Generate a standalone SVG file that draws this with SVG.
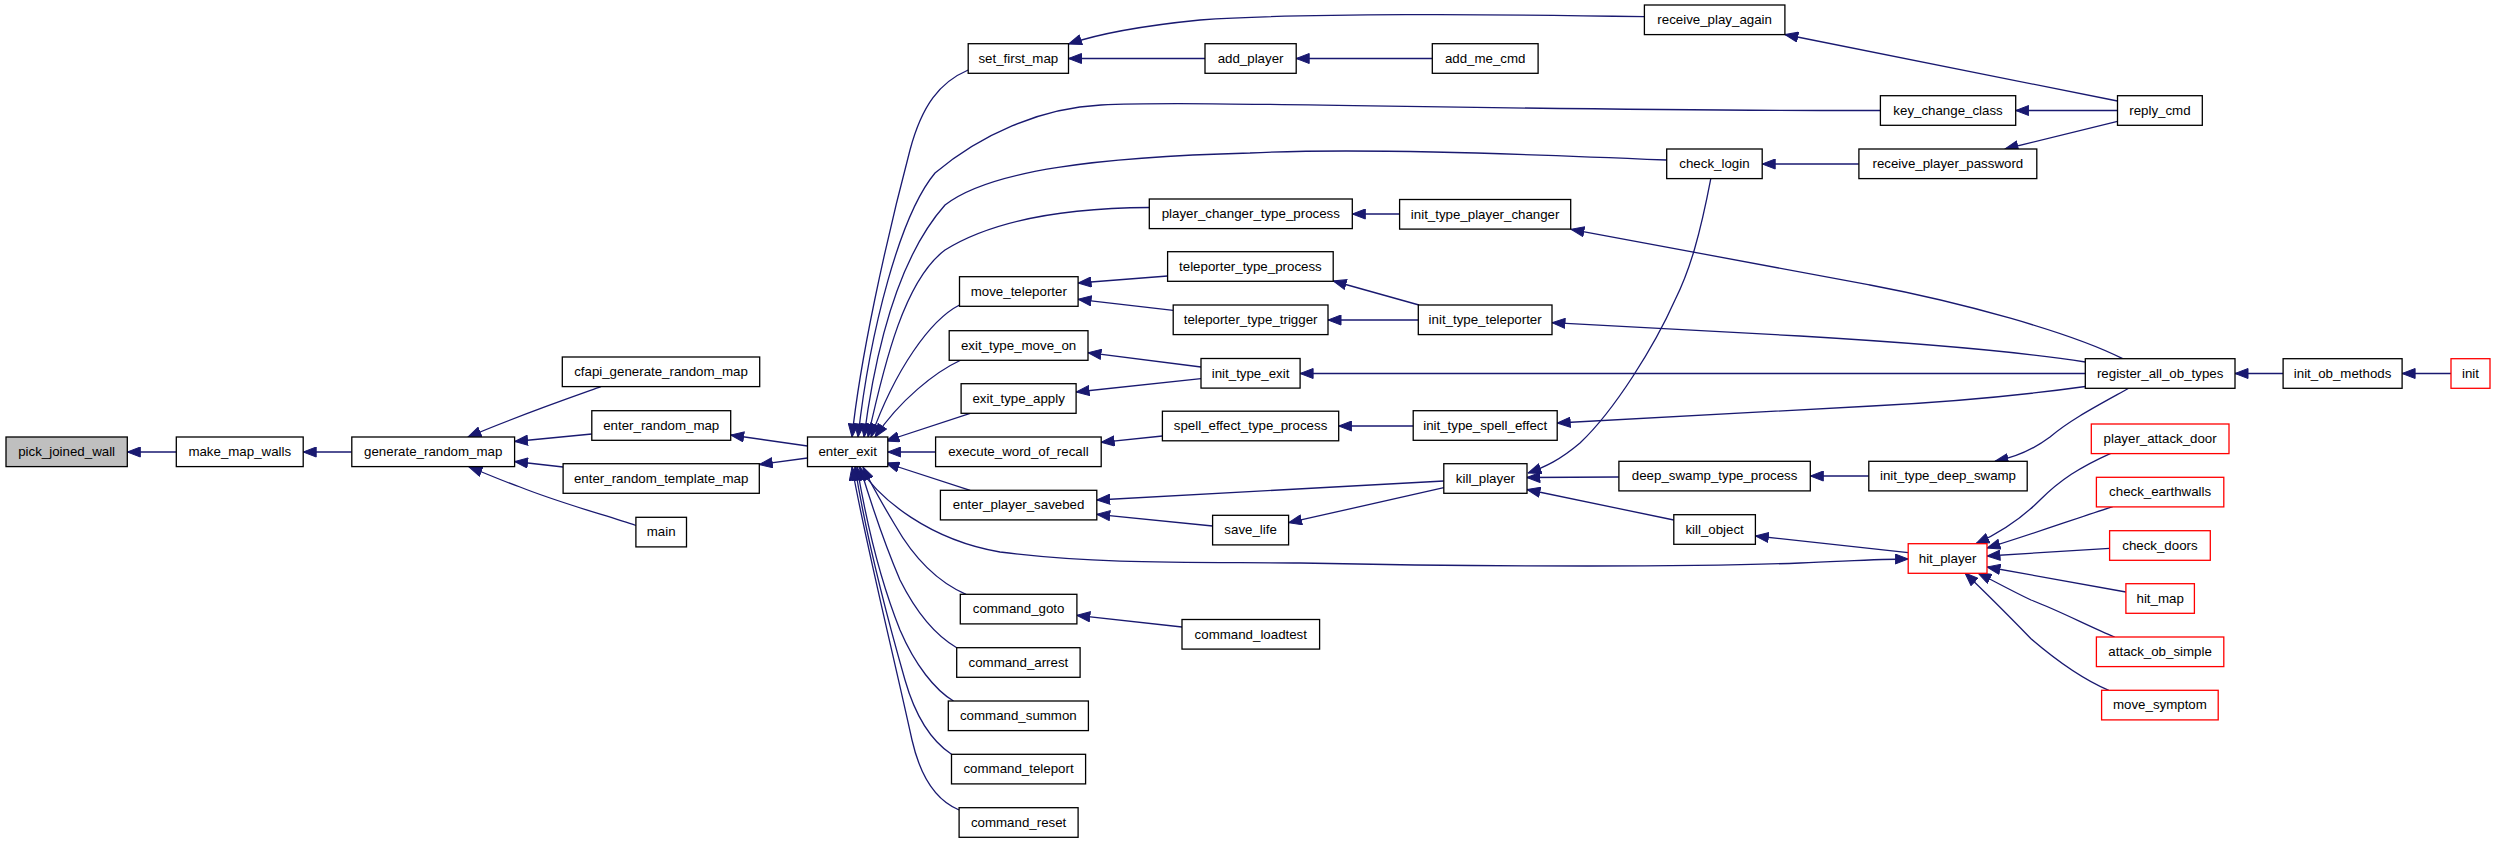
<svg xmlns="http://www.w3.org/2000/svg" width="2496" height="843" viewBox="0 0 2496 843">
<style>
.n rect{fill:#ffffff;stroke:#000000;stroke-width:1.3}
.n.hl rect{fill:#bfbfbf}
.n.red rect{stroke:#ff0000}
.n text{font-family:"Liberation Sans",Arial,sans-serif;font-size:13.3px;fill:#000000;text-anchor:middle}
#edges path{fill:none;stroke:#191970;stroke-width:1.3;marker-end:url(#ah)}
</style>
<defs>
<marker id="ah" markerUnits="userSpaceOnUse" markerWidth="14" markerHeight="11" viewBox="0 0 14 11" refX="13.5" refY="5.5" orient="auto">
<path d="M0.5,0.5 L13.5,5.5 L0.5,10.5 z" fill="#191970" stroke="#191970" stroke-width="1"/>
</marker>
</defs>
<rect x="0" y="0" width="2496" height="843" fill="#ffffff"/>
<g id="edges">
<path d="M176.3,452 L127.3,452"/>
<path d="M351.8,452 L303.2,452"/>
<path d="M601,386.7 C575,396 520,415 468,437"/>
<path d="M591.8,434 L514.6,441.5"/>
<path d="M563.1,467 L514.6,461.5"/>
<path d="M635.9,525.5 C605,515 560,503 520,487 C500,480 485,473 469,467"/>
<path d="M807.5,446 L730.7,435"/>
<path d="M807.5,458 L759.3,464.5"/>
<path d="M1205,58.5 L1068.5,58.5"/>
<path d="M1432.3,58.5 L1296.2,58.5"/>
<path d="M1644.4,16.7 C1500,14 1300,13 1200,20 C1130,27 1095,35 1068.5,44"/>
<path d="M2117.5,101 L1784.9,34.5"/>
<path d="M2117.5,110.5 L2015.7,110.5"/>
<path d="M2117.5,121.3 L2005,149"/>
<path d="M1858.9,164 L1762.2,164"/>
<path d="M1399.6,214 L1352.3,214"/>
<path d="M2122.7,358.7 C2070,332 1960,302 1870,285 C1760,265 1650,244 1571,229.3"/>
<path d="M1167.6,276 L1078.1,283"/>
<path d="M1173.2,310.3 L1078.1,299.3"/>
<path d="M1419,305 L1333.2,281"/>
<path d="M1418.3,320 L1328,320"/>
<path d="M2085.3,362 C2010,350 1900,342 1800,336 C1700,330 1620,326 1552,322.7"/>
<path d="M1201,367 L1088,352.7"/>
<path d="M1201,378.7 L1076.1,392"/>
<path d="M2085.3,373.5 L1300.1,373.5"/>
<path d="M1162.4,436 L1101.2,442.3"/>
<path d="M1413.2,426 L1338.7,426"/>
<path d="M2085.3,386.5 C2010,397 1950,402 1872,406 C1760,412 1650,418 1557.2,423"/>
<path d="M2128.7,388.3 C2095,407 2070,420 2050,437 C2030,452 2012,458 1995,461.3"/>
<path d="M2283.1,373.5 L2235,373.5"/>
<path d="M2451,373.5 L2402.1,373.5"/>
<path d="M1618.9,477 L1527,477.5"/>
<path d="M1868.8,476 L1810.3,476"/>
<path d="M1673.8,520 L1527,489.5"/>
<path d="M1710.8,178.7 C1700,235 1690,270 1675,300 C1655,345 1615,410 1580,443 C1560,460 1545,467 1528,473"/>
<path d="M1443.8,481 L1096.8,500"/>
<path d="M1212.6,526 L1096.8,514.3"/>
<path d="M1443.8,487.7 L1288.6,522.7"/>
<path d="M1908.2,552.7 L1755.4,536"/>
<path d="M858.8,467 C880,500 930,540 1000,552 C1100,565 1200,562 1300,563 C1500,567 1700,567 1800,563 C1850,561 1880,559 1908.2,559"/>
<path d="M2110.8,453.3 C2080,467 2060,480 2040,500 C2020,520 1995,535 1976,543.7"/>
<path d="M2112.8,506.7 C2080,517 2030,535 1987,548"/>
<path d="M2109.6,548.3 L1987,556"/>
<path d="M2125.9,592 L1987,567"/>
<path d="M2114.7,637 C2090,627 2060,611 2031,600 C2010,590 1992,580 1978,573"/>
<path d="M2108.8,690.3 C2080,678 2050,655 2031,638.7 C2005,612 1985,592 1965,573"/>
<path d="M1182,627 L1076.9,615.3"/>
<path d="M968.2,70 C940,82 922,105 910,150 C885,245 860,360 852,437"/>
<path d="M1880.4,110.5 C1500,111 1200,100 1101,105 C1040,108 980,135 935,173 C900,215 870,330 858,437"/>
<path d="M1666.7,160 C1500,153 1350,148 1250,153 C1100,157 990,170 945,205 C905,250 878,330 864,437"/>
<path d="M1149.3,207.5 C1060,208 990,222 945,250 C905,280 885,360 868,437"/>
<path d="M959.5,305 C930,320 895,370 871,437"/>
<path d="M961,360 C935,372 900,400 875,437"/>
<path d="M970.2,413.3 L886,441"/>
<path d="M935.6,452 L887.8,452"/>
<path d="M970.2,490.3 L886,463"/>
<path d="M966,594.3 C940,583 915,560 895,525 C880,500 870,482 863,467"/>
<path d="M956.7,647.7 C935,635 915,610 900,580 C885,545 870,500 860,467"/>
<path d="M953.5,701 C935,690 915,665 900,630 C880,580 866,520 857,467"/>
<path d="M951.5,754.3 C930,740 915,715 905,680 C885,610 865,530 855,467"/>
<path d="M959.1,810 C935,800 920,775 912,740 C890,640 865,540 852,467"/>
</g>
<g id="pick_joined_wall" class="n hl"><rect x="6" y="437" width="121.3" height="29.6"/><text x="66.65" y="456">pick_joined_wall</text></g>
<g id="make_map_walls" class="n"><rect x="176.3" y="437" width="126.9" height="29.6"/><text x="239.75" y="456">make_map_walls</text></g>
<g id="generate_random_map" class="n"><rect x="351.8" y="437" width="162.8" height="29.6"/><text x="433.2" y="456">generate_random_map</text></g>
<g id="cfapi_generate_random_map" class="n"><rect x="562.3" y="357" width="197.4" height="29.6"/><text x="661" y="376">cfapi_generate_random_map</text></g>
<g id="enter_random_map" class="n"><rect x="591.8" y="410.7" width="138.9" height="29.6"/><text x="661.25" y="429.7">enter_random_map</text></g>
<g id="enter_random_template_map" class="n"><rect x="563.1" y="463.7" width="196.2" height="29.6"/><text x="661.2" y="482.7">enter_random_template_map</text></g>
<g id="main" class="n"><rect x="635.9" y="517.3" width="50.6" height="29.6"/><text x="661.2" y="536.3">main</text></g>
<g id="enter_exit" class="n"><rect x="807.5" y="437" width="80.3" height="29.6"/><text x="847.65" y="456">enter_exit</text></g>
<g id="set_first_map" class="n"><rect x="968.2" y="43.7" width="100.3" height="29.6"/><text x="1018.35" y="62.7">set_first_map</text></g>
<g id="add_player" class="n"><rect x="1205" y="43.7" width="91.2" height="29.6"/><text x="1250.6" y="62.7">add_player</text></g>
<g id="add_me_cmd" class="n"><rect x="1432.3" y="43.7" width="105.8" height="29.6"/><text x="1485.2" y="62.7">add_me_cmd</text></g>
<g id="receive_play_again" class="n"><rect x="1644.4" y="5" width="140.5" height="29.6"/><text x="1714.65" y="24">receive_play_again</text></g>
<g id="key_change_class" class="n"><rect x="1880.4" y="95.7" width="135.3" height="29.6"/><text x="1948.05" y="114.7">key_change_class</text></g>
<g id="reply_cmd" class="n"><rect x="2117.5" y="95.7" width="84.8" height="29.6"/><text x="2159.9" y="114.7">reply_cmd</text></g>
<g id="check_login" class="n"><rect x="1666.7" y="149" width="95.5" height="29.6"/><text x="1714.45" y="168">check_login</text></g>
<g id="receive_player_password" class="n"><rect x="1858.9" y="149" width="177.9" height="29.6"/><text x="1947.85" y="168">receive_player_password</text></g>
<g id="player_changer_type_process" class="n"><rect x="1149.3" y="199" width="203" height="29.6"/><text x="1250.8" y="218">player_changer_type_process</text></g>
<g id="init_type_player_changer" class="n"><rect x="1399.6" y="199.5" width="171.1" height="29.6"/><text x="1485.15" y="218.5">init_type_player_changer</text></g>
<g id="teleporter_type_process" class="n"><rect x="1167.6" y="251.7" width="165.6" height="29.6"/><text x="1250.4" y="270.7">teleporter_type_process</text></g>
<g id="move_teleporter" class="n"><rect x="959.5" y="276.7" width="118.6" height="29.6"/><text x="1018.8" y="295.7">move_teleporter</text></g>
<g id="teleporter_type_trigger" class="n"><rect x="1173.2" y="305" width="154.8" height="29.6"/><text x="1250.6" y="324">teleporter_type_trigger</text></g>
<g id="init_type_teleporter" class="n"><rect x="1418.3" y="305" width="133.7" height="29.6"/><text x="1485.15" y="324">init_type_teleporter</text></g>
<g id="exit_type_move_on" class="n"><rect x="949.2" y="330.7" width="138.8" height="29.6"/><text x="1018.6" y="349.7">exit_type_move_on</text></g>
<g id="init_type_exit" class="n"><rect x="1201" y="358.5" width="99.1" height="29.6"/><text x="1250.55" y="377.5">init_type_exit</text></g>
<g id="exit_type_apply" class="n"><rect x="961.1" y="383.7" width="115" height="29.6"/><text x="1018.6" y="402.7">exit_type_apply</text></g>
<g id="execute_word_of_recall" class="n"><rect x="935.6" y="437" width="165.6" height="29.6"/><text x="1018.4" y="456">execute_word_of_recall</text></g>
<g id="spell_effect_type_process" class="n"><rect x="1162.4" y="411.2" width="176.3" height="29.6"/><text x="1250.55" y="430.2">spell_effect_type_process</text></g>
<g id="init_type_spell_effect" class="n"><rect x="1413.2" y="410.7" width="144" height="29.6"/><text x="1485.2" y="429.7">init_type_spell_effect</text></g>
<g id="register_all_ob_types" class="n"><rect x="2085.3" y="358.7" width="149.7" height="29.6"/><text x="2160.15" y="377.7">register_all_ob_types</text></g>
<g id="init_ob_methods" class="n"><rect x="2283.1" y="358.7" width="119" height="29.6"/><text x="2342.6" y="377.7">init_ob_methods</text></g>
<g id="init" class="n red"><rect x="2451" y="358.7" width="39" height="29.6"/><text x="2470.5" y="377.7">init</text></g>
<g id="enter_player_savebed" class="n"><rect x="940.4" y="490.3" width="156.4" height="29.6"/><text x="1018.6" y="509.3">enter_player_savebed</text></g>
<g id="save_life" class="n"><rect x="1212.6" y="515.3" width="76" height="29.6"/><text x="1250.6" y="534.3">save_life</text></g>
<g id="kill_player" class="n"><rect x="1443.8" y="463.7" width="83.2" height="29.6"/><text x="1485.4" y="482.7">kill_player</text></g>
<g id="deep_swamp_type_process" class="n"><rect x="1618.9" y="461.3" width="191.4" height="29.6"/><text x="1714.6" y="480.3">deep_swamp_type_process</text></g>
<g id="init_type_deep_swamp" class="n"><rect x="1868.8" y="461.3" width="158.4" height="29.6"/><text x="1948" y="480.3">init_type_deep_swamp</text></g>
<g id="kill_object" class="n"><rect x="1673.8" y="514.7" width="81.6" height="29.6"/><text x="1714.6" y="533.7">kill_object</text></g>
<g id="hit_player" class="n red"><rect x="1908.2" y="543.7" width="78.8" height="29.6"/><text x="1947.6" y="562.7">hit_player</text></g>
<g id="player_attack_door" class="n red"><rect x="2091.3" y="424" width="137.7" height="29.6"/><text x="2160.15" y="443">player_attack_door</text></g>
<g id="check_earthwalls" class="n red"><rect x="2096.4" y="477.3" width="127.4" height="29.6"/><text x="2160.1" y="496.3">check_earthwalls</text></g>
<g id="check_doors" class="n red"><rect x="2109.6" y="530.7" width="100.7" height="29.6"/><text x="2159.95" y="549.7">check_doors</text></g>
<g id="hit_map" class="n red"><rect x="2125.9" y="583.7" width="68.5" height="29.6"/><text x="2160.15" y="602.7">hit_map</text></g>
<g id="attack_ob_simple" class="n red"><rect x="2096.4" y="637" width="127.4" height="29.6"/><text x="2160.1" y="656">attack_ob_simple</text></g>
<g id="move_symptom" class="n red"><rect x="2101.6" y="690.3" width="116.6" height="29.6"/><text x="2159.9" y="709.3">move_symptom</text></g>
<g id="command_goto" class="n"><rect x="960.3" y="594.3" width="116.6" height="29.6"/><text x="1018.6" y="613.3">command_goto</text></g>
<g id="command_loadtest" class="n"><rect x="1182" y="619.5" width="137.6" height="29.6"/><text x="1250.8" y="638.5">command_loadtest</text></g>
<g id="command_arrest" class="n"><rect x="956.7" y="647.7" width="123.4" height="29.6"/><text x="1018.4" y="666.7">command_arrest</text></g>
<g id="command_summon" class="n"><rect x="948.3" y="701" width="140.1" height="29.6"/><text x="1018.35" y="720">command_summon</text></g>
<g id="command_teleport" class="n"><rect x="951.5" y="754.3" width="134.1" height="29.6"/><text x="1018.55" y="773.3">command_teleport</text></g>
<g id="command_reset" class="n"><rect x="959.1" y="807.7" width="119" height="29.6"/><text x="1018.6" y="826.7">command_reset</text></g>
</svg>
